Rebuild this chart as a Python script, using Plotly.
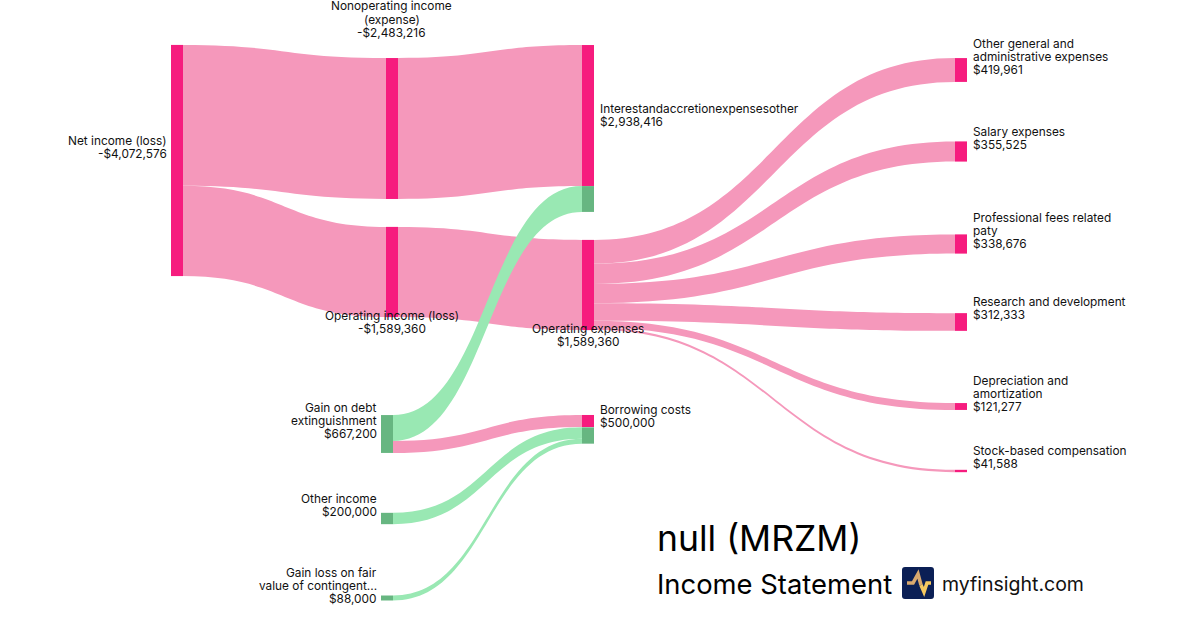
import plotly.graph_objects as go

W, H = 1200, 630
SANKEY_H = 611.5  # drawing height of the diagram, sets the value-to-pixel scale

# ---- data ----
node_names = [
    "Net income (loss)", "Nonoperating income (expense)", "Operating income (loss)",
    "Interest and accretion expenses other", "Interest (gain part)", "Operating expenses",
    "Other general and administrative expenses", "Salary expenses",
    "Professional fees related paty", "Research and development",
    "Depreciation and amortization", "Stock-based compensation",
    "Gain on debt extinguishment", "Other income", "Gain loss on fair value of contingent...",
    "Borrowing costs (expense part)", "Borrowing costs (gain part)",
]
link_source = [0, 0, 1, 2, 5, 5, 5, 5, 5, 5, 12, 12, 13, 14]
link_target = [1, 2, 3, 5, 6, 7, 8, 9, 10, 11, 15, 4, 16, 16]
link_value = [2483216, 1589360, 2483216, 1589360, 419961, 355525, 338676, 312333,
              121277, 41588, 212000, 455200, 200000, 88000]
link_kind = ["loss"] * 11 + ["gain"] * 3
node_kind = ["loss"] * 4 + ["gain"] + ["loss"] * 7 + ["gain"] * 3 + ["loss", "gain"]

# label lines, anchor
labels = [
    (["Net income (loss)", "-$4,072,576"], "right", 169, 141),
    (["Nonoperating income", "(expense)", "-$2,483,216"], "center", 391.5, 6.5),
    (["Interestandaccretionexpensesother", "$2,938,416"], "left", 598, 109),
    (["Operating income (loss)", "-$1,589,360"], "center", 391.5, 316),
    (["Operating expenses", "$1,589,360"], "center", 587.5, 329),
    (["Other general and", "administrative expenses", "$419,961"], "left", 971, 44),
    (["Salary expenses", "$355,525"], "left", 971, 132),
    (["Professional fees related", "paty", "$338,676"], "left", 971, 218),
    (["Research and development", "$312,333"], "left", 971, 302),
    (["Depreciation and", "amortization", "$121,277"], "left", 971, 381),
    (["Stock-based compensation", "$41,588"], "left", 971, 451),
    (["Gain on debt", "extinguishment", "$667,200"], "right", 379, 408),
    (["Other income", "$200,000"], "right", 379, 499),
    (["Gain loss on fair", "value of contingent...", "$88,000"], "right", 379, 573),
    (["Borrowing costs", "$500,000"], "left", 598, 410),
]
LINE_H = 13

# ---- layout settings (pixel centre of each node) ----
node_cx = [177, 392, 392, 588, 588, 588, 961, 961, 961, 961, 961, 961, 387, 387, 387, 588, 588]
node_cy = [160.5, 128.5, 272, 115.5, 199, 285, 70, 151.5, 244, 322, 406.5, 471, 434, 518.5, 598, 421, 435.5]

PINK_NODE, GREEN_NODE = "#F61C7E", "#67B681"
PINK_LINK, GREEN_LINK = "#F598BB", "#99E8B3"
FONT = "Inter"

fig = go.Figure(go.Sankey(
    arrangement="fixed",
    domain=dict(x=[0, 1], y=[1 - SANKEY_H / H, 1]),
    node=dict(
        label=[""] * len(node_names),
        customdata=node_names,
        x=[c / W for c in node_cx],
        y=[c / SANKEY_H for c in node_cy],
        pad=86,
        thickness=12,
        align="left",
        color=[PINK_NODE if k == "loss" else GREEN_NODE for k in node_kind],
        line=dict(width=0),
        hovertemplate="%{customdata}<extra></extra>",
    ),
    link=dict(
        source=link_source,
        target=link_target,
        value=link_value,
        color=[PINK_LINK if k == "loss" else GREEN_LINK for k in link_kind],
    ),
))

ann = []
for lines, align, x, y0 in labels:
    for i, line in enumerate(lines):
        ann.append(dict(
            text=line, x=x / W, y=1 - (y0 + i * LINE_H) / H, xref="paper", yref="paper",
            xanchor=align, yanchor="middle", showarrow=False, align=align,
            font=dict(family=FONT, size=11.85, color="#111111"),
        ))
ann += [
    dict(text="null (MRZM)", x=655 / W, y=1 - 538 / H, xref="paper", yref="paper", xanchor="left",
         yanchor="middle", showarrow=False, font=dict(family=FONT, size=35.5, color="#000000")),
    dict(text="Income Statement", x=655 / W, y=1 - 584 / H, xref="paper", yref="paper", xanchor="left",
         yanchor="middle", showarrow=False, font=dict(family=FONT, size=27.4, color="#000000")),
    dict(text="myfinsight.com", x=940 / W, y=1 - 584 / H, xref="paper", yref="paper", xanchor="left",
         yanchor="middle", showarrow=False, font=dict(family=FONT, size=19.5, color="#111111")),
]

def px(x, y):
    return f"{x / W:.5f},{1 - y / H:.5f}"

logo_bg = ("M" + px(905, 567) + " L" + px(931, 567) + " Q" + px(934, 567) + " " + px(934, 570) +
           " L" + px(934, 596) + " Q" + px(934, 599) + " " + px(931, 599) + " L" + px(905, 599) +
           " Q" + px(902, 599) + " " + px(902, 596) + " L" + px(902, 570) + " Q" + px(902, 567) + " " + px(905, 567) + " Z")
pulse_a = "M" + px(907, 583) + " L" + px(913, 583) + " L" + px(918, 574) + " L" + px(921, 585)
pulse_b = "M" + px(921, 585) + " L" + px(924, 592) + " L" + px(927, 583) + " L" + px(931, 583)
shapes = [
    dict(type="path", xref="paper", yref="paper", path=logo_bg, fillcolor="#0B1F55", line=dict(width=0)),
    dict(type="path", xref="paper", yref="paper", path=pulse_a, line=dict(color="#D9A96E", width=3.6)),
    dict(type="path", xref="paper", yref="paper", path=pulse_b, line=dict(color="#F5C860", width=3.6)),
]

fig.update_layout(width=W, height=H, margin=dict(l=0, r=0, t=0, b=0),
                  paper_bgcolor="white", plot_bgcolor="white",
                  font=dict(family=FONT), annotations=ann, shapes=shapes)
fig.write_html("out.html", config=dict(displayModeBar=False),
               post_script="document.body.style.margin='0';")
